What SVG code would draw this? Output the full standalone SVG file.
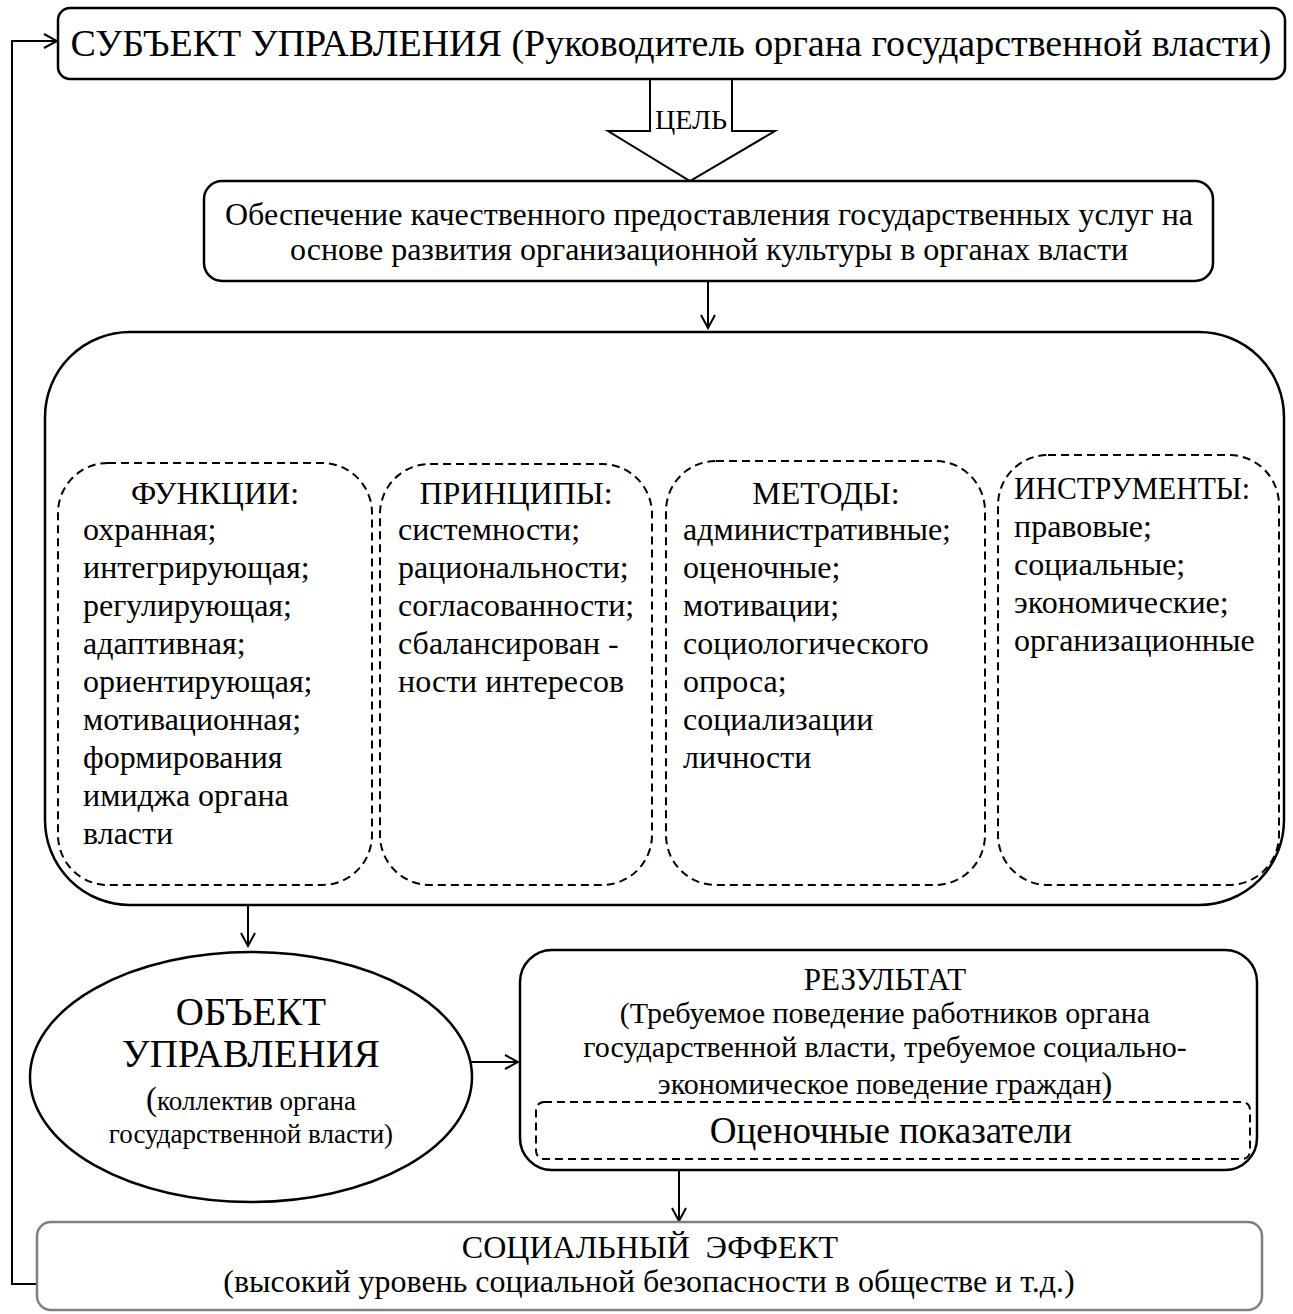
<svg xmlns="http://www.w3.org/2000/svg" width="1293" height="1314" viewBox="0 0 1293 1314">
<defs>
<style>
.box{fill:#fff;stroke:#000;stroke-width:2.5}
.dash{fill:none;stroke:#000;stroke-width:2;stroke-dasharray:8 5}
.t{font-family:"Liberation Serif","Times New Roman",serif;fill:#000}
.c{text-anchor:middle}
.ln{fill:none;stroke:#000;stroke-width:2}
</style>
<marker id="arr" markerWidth="16" markerHeight="16" refX="14" refY="8" orient="auto" markerUnits="userSpaceOnUse">
<path d="M1,1 L14,8 L1,15" fill="none" stroke="#000" stroke-width="2"/>
</marker>
</defs>
<g id="connectors">
<polyline class="ln" points="37,1284 12,1284 12,41 57,41" marker-end="url(#arr)"/>
<line class="ln" x1="708" y1="282" x2="708" y2="328" marker-end="url(#arr)"/>
<line class="ln" x1="248" y1="905" x2="248" y2="946" marker-end="url(#arr)"/>
<line class="ln" x1="469" y1="1062" x2="518" y2="1062" marker-end="url(#arr)"/>
<line class="ln" x1="679" y1="1170" x2="679" y2="1221" marker-end="url(#arr)"/>
<polygon points="650,79 650,131 608,131 690,181 775,131 732,131 732,79" fill="#fff" stroke="#000" stroke-width="2"/>
<text class="t c" x="691" y="129" font-size="28">ЦЕЛЬ</text>
</g>
<g id="subject">
<rect class="box" x="58" y="8" width="1227" height="71" rx="12"/>
<text class="t c" x="671" y="56" font-size="38">СУБЪЕКТ УПРАВЛЕНИЯ (Руководитель органа государственной власти)</text>
</g>
<g id="goal">
<rect class="box" x="204" y="181" width="1009" height="100" rx="18"/>
<text class="t c" x="709" y="225" font-size="32">Обеспечение качественного предоставления государственных услуг на</text>
<text class="t c" x="709" y="260" font-size="32">основе развития организационной культуры в органах власти</text>
</g>
<g id="means">
<rect class="box" x="45" y="332" width="1239" height="573" rx="85"/>
</g>
<g id="functions">
<rect class="dash" x="58" y="463" width="314" height="422" rx="50"/>
<text class="t c" x="215" y="504" font-size="32">ФУНКЦИИ:</text>
<text class="t" font-size="32">
<tspan x="83" y="540">охранная;</tspan>
<tspan x="83" y="578">интегрирующая;</tspan>
<tspan x="83" y="616">регулирующая;</tspan>
<tspan x="83" y="654">адаптивная;</tspan>
<tspan x="83" y="692">ориентирующая;</tspan>
<tspan x="83" y="730">мотивационная;</tspan>
<tspan x="83" y="768">формирования</tspan>
<tspan x="83" y="806">имиджа органа</tspan>
<tspan x="83" y="844">власти</tspan>
</text>
</g>
<g id="principles">
<rect class="dash" x="380" y="464" width="272" height="421" rx="50"/>
<text class="t c" x="516" y="504" font-size="32">ПРИНЦИПЫ:</text>
<text class="t" font-size="32">
<tspan x="398" y="540">системности;</tspan>
<tspan x="398" y="578">рациональности;</tspan>
<tspan x="398" y="616">согласованности;</tspan>
<tspan x="398" y="654">сбалансирован -</tspan>
<tspan x="398" y="692">ности интересов</tspan>
</text>
</g>
<g id="methods">
<rect class="dash" x="666" y="461" width="319" height="424" rx="50"/>
<text class="t c" x="826" y="504" font-size="32">МЕТОДЫ:</text>
<text class="t" font-size="32">
<tspan x="683" y="540">административные;</tspan>
<tspan x="683" y="578">оценочные;</tspan>
<tspan x="683" y="616">мотивации;</tspan>
<tspan x="683" y="654">социологического</tspan>
<tspan x="683" y="692">опроса;</tspan>
<tspan x="683" y="730">социализации</tspan>
<tspan x="683" y="768">личности</tspan>
</text>
</g>
<g id="instruments">
<rect class="dash" x="998" y="455" width="281" height="430" rx="50"/>
<text class="t" x="1014" y="499" font-size="32" textLength="236" lengthAdjust="spacingAndGlyphs">ИНСТРУМЕНТЫ:</text>
<text class="t" font-size="32">
<tspan x="1014" y="537">правовые;</tspan>
<tspan x="1014" y="575">социальные;</tspan>
<tspan x="1014" y="613">экономические;</tspan>
<tspan x="1014" y="651">организационные</tspan>
</text>
</g>
<g id="object">
<ellipse class="box" cx="251" cy="1077" rx="221" ry="125"/>
<text class="t c" x="251" y="1025" font-size="39">ОБЪЕКТ</text>
<text class="t c" x="251" y="1067" font-size="39">УПРАВЛЕНИЯ</text>
<text class="t c" x="251" y="1110" font-size="27"><tspan font-size="33">(</tspan>коллектив органа</text>
<text class="t c" x="251" y="1143" font-size="27">государственной власти)</text>
</g>
<g id="result">
<rect class="box" x="520" y="950" width="737" height="220" rx="32"/>
<text class="t c" x="885" y="990" font-size="31">РЕЗУЛЬТАТ</text>
<text class="t c" x="885" y="1023" font-size="30">(Требуемое поведение работников органа</text>
<text class="t c" x="885" y="1057" font-size="30">государственной власти, требуемое социально-</text>
<text class="t c" x="885" y="1094" font-size="30">экономическое поведение граждан<tspan font-size="32">)</tspan></text>
<rect class="dash" x="536" y="1102" width="714" height="57" rx="8"/>
<text class="t c" x="891" y="1143" font-size="37">Оценочные показатели</text>
</g>
<g id="effect">
<rect x="37" y="1222" width="1225" height="88" rx="14" fill="#fff" stroke="#808080" stroke-width="2.5"/>
<text class="t c" x="650" y="1258" font-size="32" xml:space="preserve">СОЦИАЛЬНЫЙ  ЭФФЕКТ</text>
<text class="t c" x="649" y="1292" font-size="32">(высокий уровень социальной безопасности в обществе и т.д.)</text>
</g>
</svg>
